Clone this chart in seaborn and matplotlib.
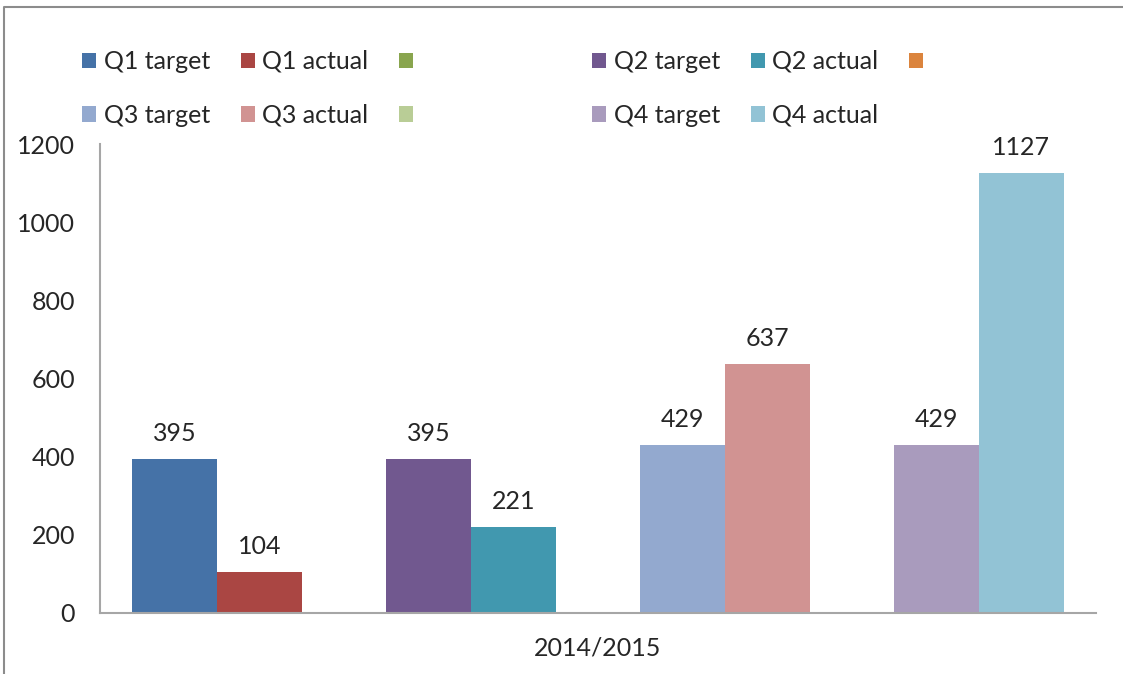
import pandas as pd
import matplotlib.pyplot as plt
import seaborn as sns
from matplotlib.patches import Patch
from matplotlib.lines import Line2D

# Datos
periodo = ["2014/2015"]
series = ["Q1 target", "Q1 actual", " ", "Q2 target", "Q2 actual", "  ",
          "Q3 target", "Q3 actual", "   ", "Q4 target", "Q4 actual"]
valores = [395, 104, None, 395, 221, None, 429, 637, None, 429, 1127]
colores = ["#4572A7", "#AA4643", "#89A54E", "#71588F", "#4198AF", "#DB843D",
           "#93A9CF", "#D19392", "#B9CD96", "#A99BBD", "#92C3D5"]
yticks = [0, 200, 400, 600, 800, 1000, 1200]

df = pd.DataFrame({"periodo": periodo * len(series), "serie": series, "valor": valores})

sns.set_style("white")
plt.rcParams['font.family'] = ['Lato', 'DejaVu Sans']
W, H = 1123, 674
fig = plt.figure(figsize=(W / 100, H / 100), dpi=100)
ax = fig.add_axes([100 / W, 1 - 613 / H, 996 / W, 469 / H])

sns.barplot(data=df, x="periodo", y="valor", hue="serie", hue_order=series,
            palette=colores, width=0.935, saturation=1, errorbar=None,
            linewidth=0, legend=False, ax=ax)

# Etiquetas de valores sobre las barras
for cont in ax.containers:
    ax.bar_label(cont, fmt="%d", padding=10, fontsize=18)

ax.set_ylim(0, 1200)
ax.set_yticks(yticks)
ax.set_xlabel("")
ax.set_ylabel("")
ax.tick_params(axis="y", length=0, pad=18, labelsize=18)
ax.tick_params(axis="x", length=0, pad=17, labelsize=18)
for s in ["top", "right"]:
    ax.spines[s].set_visible(False)
for s in ["left", "bottom"]:
    ax.spines[s].set_color("#A6A6A6")
    ax.spines[s].set_linewidth(1.5)

# Leyenda en dos bloques de tres columnas
def leyenda(idx, x0):
    orden = [idx[0], idx[3], idx[1], idx[4], idx[2]] if len(idx) == 5 else [idx[0], idx[3], idx[1], idx[4], idx[2], idx[5]]
    handles = [Patch(facecolor=colores[i], edgecolor="none") for i in orden]
    labels = [series[i].strip() for i in orden]
    return fig.legend(handles, labels, ncol=3, loc="upper left",
                      bbox_to_anchor=(x0 / W, 1 - 50 / H), frameon=False,
                      fontsize=18, handlelength=0.56, handleheight=0.56,
                      handletextpad=0.3, columnspacing=1.24, labelspacing=1.23,
                      borderpad=0, borderaxespad=0)

leyenda([0, 1, 2, 6, 7, 8], 82)
leyenda([3, 4, 5, 9, 10], 592)

# Marco del grafico (solo borde izquierdo y superior visibles)
x0, y0 = 4 / W, 1 - 7 / H
fig.add_artist(Line2D([x0, x0, 1], [0, y0, y0], transform=fig.transFigure,
                      color="#8C8C8C", linewidth=1.5))

fig.savefig("out.png", dpi=100)
plt.close(fig)
